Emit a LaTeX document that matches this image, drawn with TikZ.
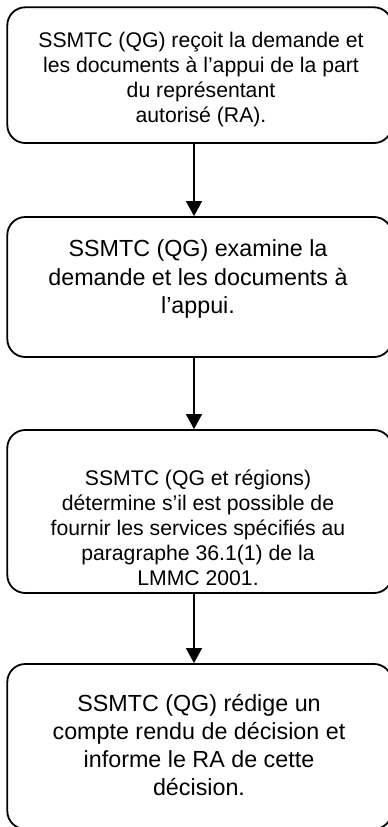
\documentclass[tikz,border=0pt]{standalone}
\usepackage{fontspec}
\setmainfont{Liberation Sans}
\usepackage{tikz}
\usetikzlibrary{positioning}
\usetikzlibrary{arrows.meta}

\begin{document}
\begin{tikzpicture}[x=1pt, y=-1pt,
flowbox/.style={draw=black, line width=1.8pt, rounded corners=18pt, inner sep=0pt, minimum width=384.7pt},
flowarrow/.style={draw=black, line width=1.4pt, -{Triangle[width=16pt,length=15pt]}},
smalltext/.style={align=center, inner sep=0pt, font=\fontsize{21.2}{25}\selectfont},
bigtext/.style={align=center, inner sep=0pt, font=\fontsize{23.3}{28.3}\selectfont}]

\useasboundingbox (0,0) rectangle (388,827);


\node[flowbox, minimum height=135.7pt] (b1) at (199.65,75.15) {};
\node[flowbox, minimum height=140pt] (b2) at (199.65,287) {};
\node[flowbox, minimum height=163pt] (b3) at (199.65,511.5) {};
\node[flowbox, minimum height=165pt] (b4) at (199.65,746.5) {};


\node[smalltext] (t1) at (201,80) {SSMTC (QG) reçoit la demande et\\ les documents à l’appui de la part\\ du représentant\\ autorisé (RA).};

\node[bigtext] (t2) at (198,279) {SSMTC (QG) examine la\\ demande et les documents à\\ l’appui.};

\node[smalltext] (t3) at (198,528) {SSMTC (QG et régions)\\ détermine s’il est possible de\\ fournir les services spécifiés au\\ paragraphe 36.1(1) de la\\ LMMC 2001.};

\node[bigtext] (t4) at (199,745) {SSMTC (QG) rédige un\\ compte rendu de décision et\\ informe le RA de cette\\ décision.};


\coordinate (axis) at (194,0);

\draw[flowarrow] (b1.south -| axis) -- (b2.north -| axis);
\draw[flowarrow] (b2.south -| axis) -- (b3.north -| axis);
\draw[flowarrow] (b3.south -| axis) -- (b4.north -| axis);

\end{tikzpicture}
\end{document}
